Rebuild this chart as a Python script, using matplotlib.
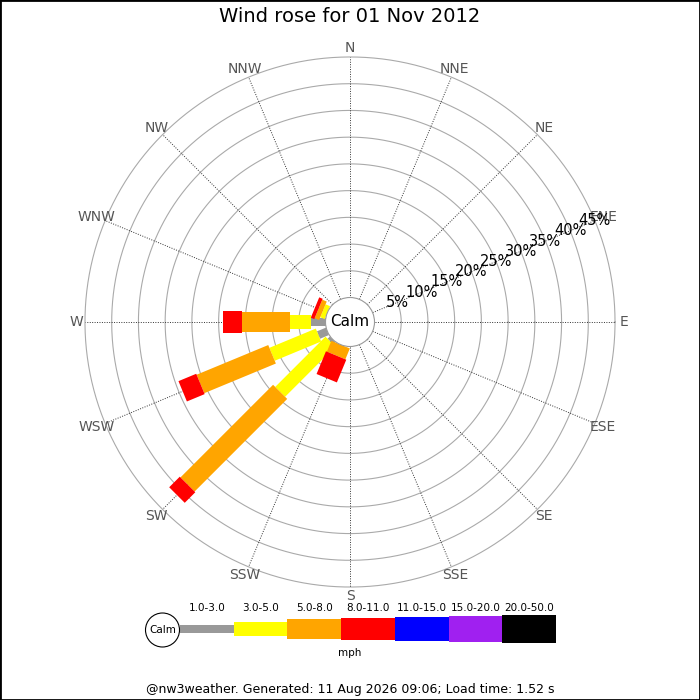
import numpy as np
import matplotlib
matplotlib.use("Agg")
from matplotlib import pyplot as plt
from matplotlib.patches import Polygon, Circle, Rectangle

# dados do dia (percentagem do tempo por direcao e classe de velocidade)
direcoes = ["N", "NNE", "NE", "ENE", "E", "ESE", "SE", "SSE",
            "S", "SSW", "SW", "WSW", "W", "WNW", "NW", "NNW"]
classes = ["1.0-3.0", "3.0-5.0", "5.0-8.0", "8.0-11.0",
           "11.0-15.0", "15.0-20.0", "20.0-50.0"]
cores = ["#999999", "#ffff00", "#ffa500", "#ff0000",
         "#0000ff", "#a020f0", "#000000"]

v_1_3 = [0, 0, 0, 0, 0, 0, 0, 0, 0, 0.0, 0.6, 1.8, 2.7, 0.0, 0, 0]
v_3_5 = [0, 0, 0, 0, 0, 0, 0, 0, 0, 0.0, 13.3, 9.4, 4.0, 0.9, 0, 0]
v_5_8 = [0, 0, 0, 0, 0, 0, 0, 0, 0, 2.2, 24.5, 14.5, 9.0, 0.9, 0, 0]
v_8_11 = [0, 0, 0, 0, 0, 0, 0, 0, 0, 4.6, 2.8, 3.6, 3.4, 0.7, 0, 0]
v_11_15 = [0] * 16
v_15_20 = [0] * 16
v_20_50 = [0] * 16

aneis = [5, 10, 15, 20, 25, 30, 35, 40, 45]
titulo = "Wind rose for 01 Nov 2012"
rodape = "@nw3weather. Generated: 11 Aug 2026 09:06; Load time: 1.52 s"

# geometria (unidades = pixels)
R_CALM = 24.5
PX_POR_PCT = 5.345
larguras = [8, 14, 20, 22, 24, 26, 28]


def raio(p):
    return R_CALM + PX_POR_PCT * p


def retangulo(ang, r0, r1, w):
    """Retangulo rodado ao longo da direcao ang (graus, sentido horario a partir do N)"""
    t = np.radians(ang)
    u = np.array([np.sin(t), np.cos(t)])
    n = np.array([np.cos(t), -np.sin(t)])
    return [u * r0 + n * w / 2, u * r1 + n * w / 2,
            u * r1 - n * w / 2, u * r0 - n * w / 2]


fig = plt.figure(figsize=(7, 7), dpi=100)
ax = fig.add_axes([0, 0, 1, 1])
ax.set_xlim(-350, 350)
ax.set_ylim(-378, 322)
ax.set_aspect("equal")
ax.axis("off")

# aneis e raios
t = np.linspace(0, 2 * np.pi, 400)
for p in aneis:
    ax.plot(raio(p) * np.cos(t), raio(p) * np.sin(t), color="#aaaaaa", lw=0.8, zorder=1)

angulos = np.arange(16) * 22.5
for a, nome in zip(angulos, direcoes):
    s, c = np.sin(np.radians(a)), np.cos(np.radians(a))
    ax.plot([R_CALM * s, raio(aneis[-1]) * s], [R_CALM * c, raio(aneis[-1]) * c],
            color="#333333", lw=0.7, linestyle=(0, (1, 1.5)), zorder=1)
    ax.text(274 * s, 274 * c, nome, ha="center", va="center", fontsize=10, color="#555555")

# barras empilhadas
series = [v_1_3, v_3_5, v_5_8, v_8_11, v_11_15, v_15_20, v_20_50]
acum = np.zeros(16)
for serie, cor, w in zip(series, cores, larguras):
    serie = np.array(serie, dtype=float)
    for i in range(16):
        if serie[i] > 0:
            pts = retangulo(angulos[i], raio(acum[i]), raio(acum[i] + serie[i]), w)
            ax.add_patch(Polygon(pts, closed=True, facecolor=cor, edgecolor="none", zorder=2))
    acum = acum + serie

# rotulos de percentagem ao longo do ENE
a_lab = np.radians(67.5)
for p in aneis:
    ax.text(raio(p) * np.sin(a_lab), raio(p) * np.cos(a_lab), "%d%%" % p,
            ha="center", va="center", fontsize=10.5, color="black", zorder=4)

# circulo calmo
ax.add_patch(Circle((0, 0), R_CALM, facecolor="white", edgecolor="#999999", lw=0.8, zorder=3))
ax.text(0, 0, "Calm", ha="center", va="center", fontsize=11, zorder=4)

ax.text(0, 305, titulo, ha="center", va="center", fontsize=14)

# legenda
ly = -307
lx0 = -170
passo = 53.7
ax.add_patch(Circle((lx0 - 17.5, ly - 1), 17, facecolor="white", edgecolor="black", lw=0.8, zorder=3))
ax.text(lx0 - 17.5, ly - 1, "Calm", ha="center", va="center", fontsize=7.5)
for k, (nome, cor, w) in enumerate(zip(classes, cores, larguras)):
    ax.add_patch(Rectangle((lx0 + k * passo, ly - w / 2), passo, w,
                           facecolor=cor, edgecolor="none", zorder=2))
    ax.text(lx0 + (k + 0.5) * passo, -286, nome, ha="center", va="center", fontsize=7.5)
ax.text(0, -331, "mph", ha="center", va="center", fontsize=7.5)

ax.text(0, -368, rodape, ha="center", va="center", fontsize=9)

# borda preta da imagem
fig.patches.append(Rectangle((0, 0), 1, 1, transform=fig.transFigure, fill=False,
                             edgecolor="black", lw=2))

fig.savefig("out.png", dpi=100, facecolor="white")
